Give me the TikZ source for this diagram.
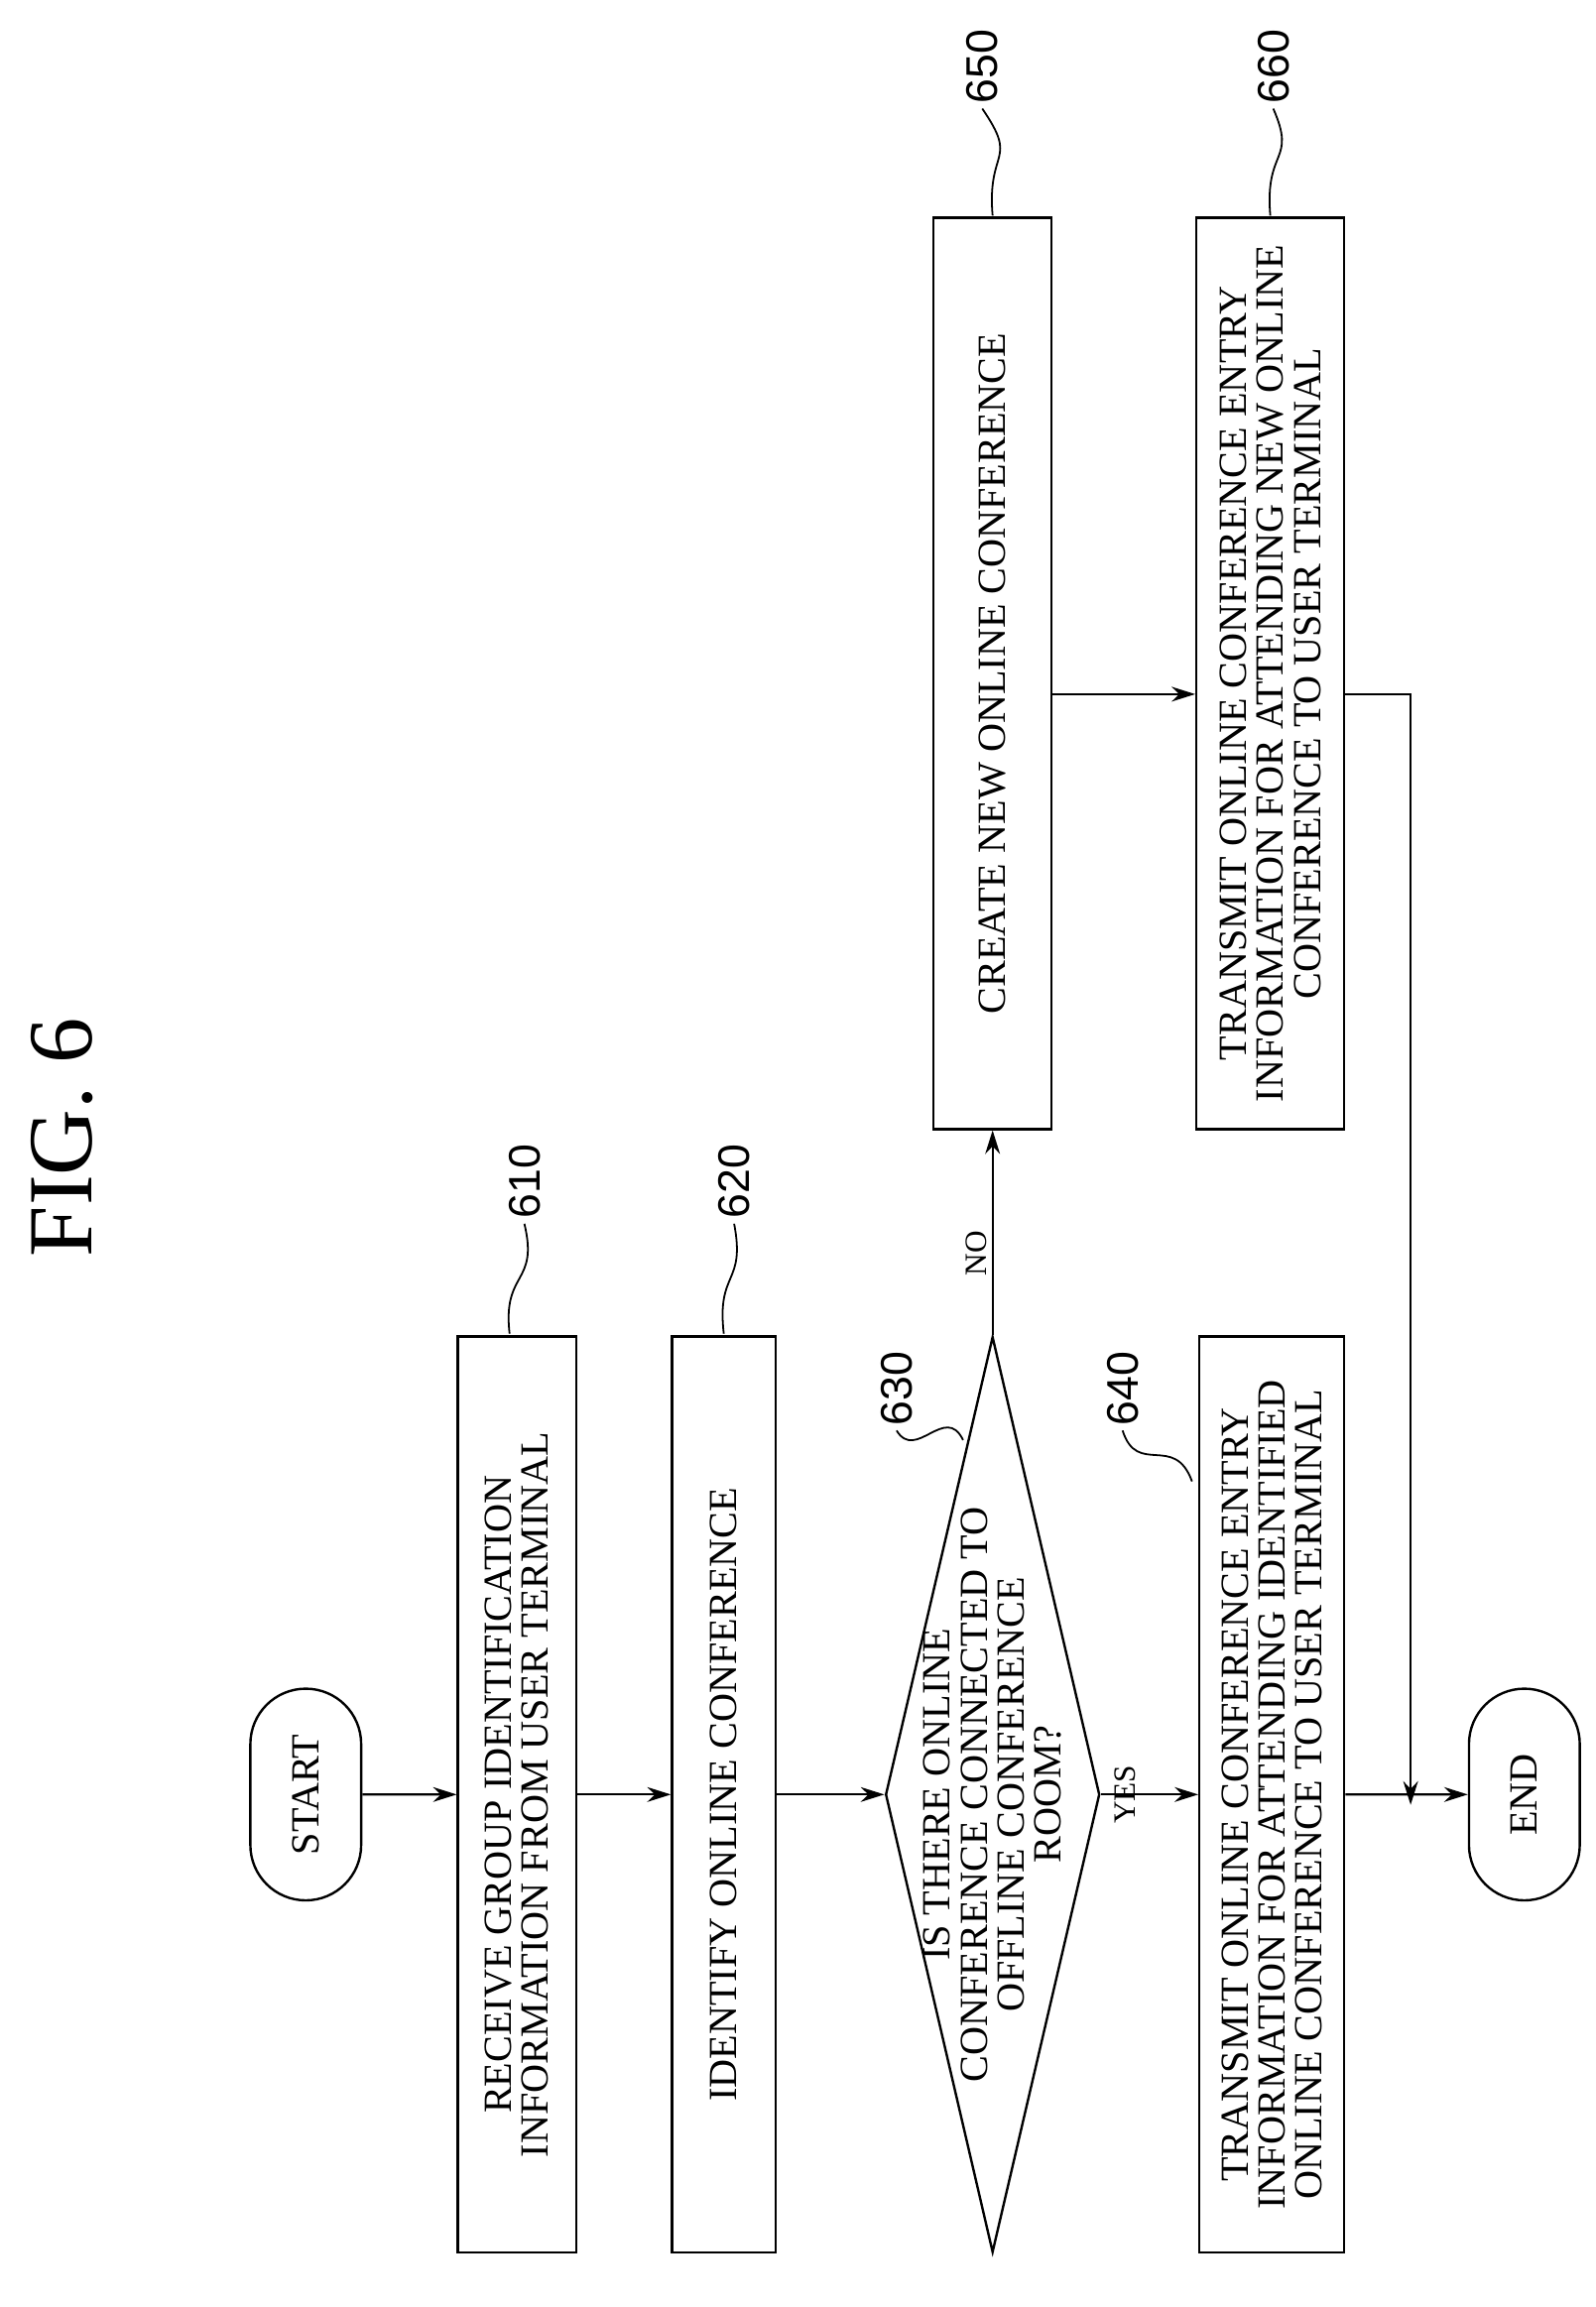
\documentclass[tikz,border=0pt]{standalone}
\usepackage{fontspec}
\setmainfont{Liberation Serif}
\newfontfamily\lblfont{Liberation Sans}
\usetikzlibrary{shapes.geometric,shapes.misc,arrows.meta}
\begin{document}
\begin{tikzpicture}[x=1pt,y=-1pt,
  every node/.style={font=\fontsize{27}{25}\selectfont, align=center},
  box/.style={draw, line width=1.6pt, rotate=90, minimum width=620, inner sep=2pt},
  pill/.style={draw, line width=1.6pt, rotate=90, rounded rectangle, minimum width=150, minimum height=75},
  arr/.style={line width=1.6pt, -{Stealth[length=16pt,width=10pt]}},
  lead/.style={line width=1.2pt},
  lbl/.style={rotate=90, font=\lblfont\fontsize{30}{30}\selectfont}]
\useasboundingbox (0,0) rectangle (1080,1562);
\node[rotate=90, font=\fontsize{62}{62}\selectfont] (title) at (42,770) {FIG. 6};
\node[pill] (start) at (207,1215) {START};
\node[box, minimum height=80] (n610) at (350,1215) {RECEIVE GROUP IDENTIFICATION\\INFORMATION FROM USER TERMINAL};
\node[box, minimum height=70] (n620) at (490,1215) {IDENTIFY ONLINE CONFERENCE};
\node[draw, line width=1.6pt, diamond, rotate=90, minimum width=620, minimum height=145, inner sep=0pt] (n630) at (672,1215) {};
\node[rotate=90] (t630) at (672,1215) {IS THERE ONLINE\\CONFERENCE CONNECTED TO\\OFFLINE CONFERENCE\\ROOM?};
\node[box, minimum height=98] (n640) at (861,1215) {TRANSMIT ONLINE CONFERENCE ENTRY\\INFORMATION FOR ATTENDING IDENTIFIED\\ONLINE CONFERENCE TO USER TERMINAL};
\node[pill] (end) at (1032,1215) {END};
\node[box, minimum height=80, minimum width=617] (n650) at (672,456) {CREATE NEW ONLINE CONFERENCE};
\node[box, minimum height=100, minimum width=617] (n660) at (860,456) {TRANSMIT ONLINE CONFERENCE ENTRY\\INFORMATION FOR ATTENDING NEW ONLINE\\CONFERENCE TO USER TERMINAL};
\coordinate (c1) at (955,470);
\coordinate (c2) at (955,1222);
\draw[arr] (start) -- (n610);
\draw[arr] (n610) -- (n620);
\draw[arr] (n620) -- (n630);
\draw[arr] (n630) -- node[rotate=90, anchor=south, yshift=2pt, pos=0.45, font=\fontsize{21}{21}\selectfont] (yes) {YES} (n640);
\draw[arr] (n630) -- node[rotate=90, anchor=south, pos=0.4, font=\fontsize{21}{21}\selectfont] (no) {NO} (n650);
\draw[arr] (n640) -- (end);
\draw[arr] (n650.south |- c1) -- (n660.north |- c1);
\draw[arr] (n660.south |- c1) -- (c1) -- (c2);
% reference labels
\node[lbl] (l610) at (355,800) {610};
\draw[lead] (345,903) .. controls (340,860) and (365,870) .. (l610.west);
\node[lbl] (l620) at (497,800) {620};
\draw[lead] (490,903) .. controls (485,860) and (505,870) .. (l620.west);
\node[lbl] (l630) at (607,940) {630};
\draw[lead] (652,975) .. controls (640,950) and (620,990) .. (l630.west);
\node[lbl] (l640) at (760,940) {640};
\draw[lead] (807,1003) .. controls (795,970) and (770,1000) .. (l640.west);
\node[lbl] (l650) at (665,45) {650};
\draw[lead] (672,146) .. controls (668,100) and (690,110) .. (l650.west);
\node[lbl] (l660) at (862,45) {660};
\draw[lead] (860,146) .. controls (856,100) and (878,110) .. (l660.west);
\end{tikzpicture}
\end{document}
